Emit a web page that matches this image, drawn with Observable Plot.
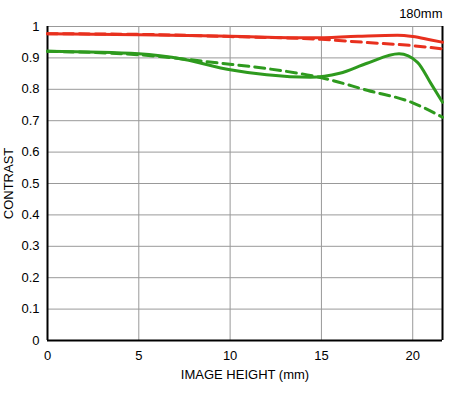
<!DOCTYPE html>
<html><head><meta charset="utf-8">
<script src="https://cdn.jsdelivr.net/npm/d3@7"></script>
<script src="https://cdn.jsdelivr.net/npm/@observablehq/plot@0.6"></script>
<style>body{margin:0;background:#fff;font-family:"Liberation Sans",Arial,sans-serif}</style>
</head><body><div id="chart"></div>
<script>
const title = "180mm";
const xTicks = [0, 5, 10, 15, 20];
const yTicks = [0, 0.1, 0.2, 0.3, 0.4, 0.5, 0.6, 0.7, 0.8, 0.9, 1];
const xMax = 21.63;
const redSolidX = [0, 5, 10, 14.5, 17, 19.16, 20, 21, 21.63];
const redSolidY = [0.977, 0.974, 0.969, 0.964, 0.969, 0.972, 0.968, 0.957, 0.950];
const redDashX = [0, 5, 10, 15, 17.5, 20, 21, 21.63];
const redDashY = [0.977, 0.975, 0.968, 0.959, 0.949, 0.939, 0.933, 0.929];
const greenSolidX = [0, 5, 7.5, 10, 12, 14.4, 16, 17.5, 19.25, 20.26, 21, 21.63];
const greenSolidY = [0.921, 0.913, 0.895, 0.862, 0.846, 0.838, 0.851, 0.883, 0.913, 0.886, 0.818, 0.759];
const greenDashX = [0, 5, 9.5, 12, 15, 17.5, 20, 21.63];
const greenDashY = [0.921, 0.910, 0.883, 0.866, 0.837, 0.797, 0.757, 0.711];

const toRows = (xs, ys) => xs.map((x, i) => ({x, y: ys[i]}));
const red = "#e8301e", green = "#2e9a1e";

const plot = Plot.plot({
  width: 454, height: 393,
  marginLeft: 47, marginRight: 12, marginTop: 26, marginBottom: 53,
  style: {fontFamily: "Liberation Sans, Arial, sans-serif", fontSize: "13px", color: "#000", background: "#fff"},
  x: {domain: [0, xMax], ticks: xTicks, tickSize: 0, tickPadding: 10, label: "IMAGE HEIGHT (mm)", labelAnchor: "center", labelOffset: 38, labelArrow: "none"},
  y: {domain: [0, 1], ticks: yTicks, tickSize: 0, tickPadding: 8, tickFormat: d => String(d), label: "CONTRAST", labelAnchor: "center", labelOffset: 44, labelArrow: "none"},
  marks: [
    Plot.gridX(xTicks, {stroke: "#999", strokeOpacity: 1, strokeWidth: 1}),
    Plot.gridY(yTicks, {stroke: "#999", strokeOpacity: 1, strokeWidth: 1}),
    Plot.ruleX([0, xMax], {stroke: "#000", strokeWidth: 2}),
    Plot.ruleY([0], {stroke: "#000", strokeWidth: 2}),
    Plot.line(toRows(redDashX, redDashY), {x: "x", y: "y", stroke: red, strokeWidth: 3, strokeDasharray: "10,6", curve: "monotone-x"}),
    Plot.line(toRows(redSolidX, redSolidY), {x: "x", y: "y", stroke: red, strokeWidth: 3, curve: "monotone-x"}),
    Plot.line(toRows(greenDashX, greenDashY), {x: "x", y: "y", stroke: green, strokeWidth: 3, strokeDasharray: "10,6", curve: "monotone-x"}),
    Plot.line(toRows(greenSolidX, greenSolidY), {x: "x", y: "y", stroke: green, strokeWidth: 3, curve: "monotone-x"}),
    Plot.text([title], {frameAnchor: "top-right", dy: -18, dx: 0, fontSize: 13, fill: "#000"})
  ]
});
document.getElementById("chart").append(plot);
</script></body></html>
